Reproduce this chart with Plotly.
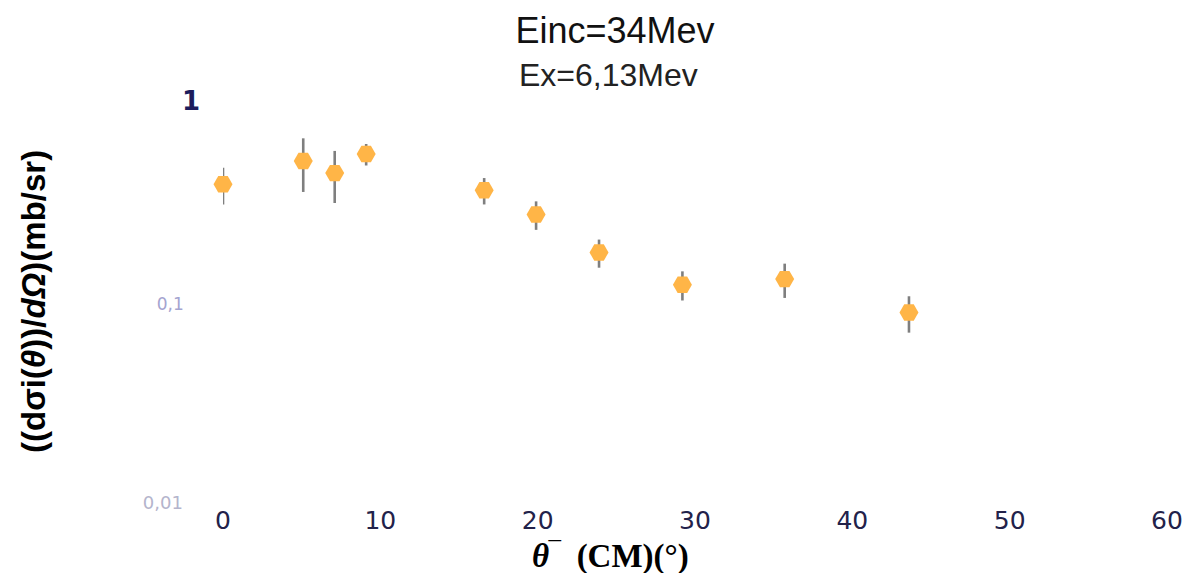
import plotly.graph_objects as go

# Angular distribution, Einc = 34 MeV, Ex = 6.13 MeV
theta_cm = [0, 5.1, 7.1, 9.1, 16.6, 19.9, 23.9, 29.2, 35.7, 43.6]
dsigma = [0.383, 0.50, 0.435, 0.542, 0.357, 0.270, 0.174, 0.120, 0.128, 0.087]
dsigma_err = [0.08, 0.15, 0.127, 0.067, 0.054, 0.044, 0.028, 0.020, 0.025, 0.018]

x_ticks = [0, 10, 20, 30, 40, 50, 60]
y_ticks = [0.01, 0.1, 1]
y_ticktext = [
    "<span style='font-size:18px;color:#b4b4cc'>0,01&nbsp;&nbsp;&nbsp;</span>",
    "<span style='font-size:17px;color:#a4a4d0'>0,1&nbsp;&nbsp;&nbsp;</span>",
    "<b>1</b>",
]

fig = go.Figure()
fig.add_trace(go.Scatter(
    x=theta_cm,
    y=dsigma,
    mode="markers",
    marker=dict(symbol="hexagon2", size=19, color="#FFB547", line=dict(width=0)),
    error_y=dict(type="data", array=dsigma_err, color="#7f7f7f", thickness=2.6, width=0),
    cliponaxis=False,
    showlegend=False,
))

fig.update_layout(
    width=1195,
    height=573,
    margin=dict(l=223, r=23, t=101, b=73),
    paper_bgcolor="white",
    plot_bgcolor="white",
    font=dict(family="DejaVu Sans", color="#22224a"),
    title=dict(
        text="Einc=34Mev",
        font=dict(family="Liberation Sans", size=36, color="#111111"),
        x=615 / 1195, xanchor="center", xref="container",
        y=1 - 30 / 573, yanchor="middle", yref="container",
    ),
    xaxis=dict(
        range=[0, 60],
        tickvals=x_ticks,
        ticktext=[str(v) for v in x_ticks],
        tickfont=dict(family="DejaVu Sans", size=25, color="#22224a"),
        showgrid=False, zeroline=False, showline=False, ticks="",
        ticklabelstandoff=3,
    ),
    yaxis=dict(
        type="log",
        range=[-2, 0],
        tickvals=y_ticks,
        ticktext=y_ticktext,
        tickfont=dict(family="DejaVu Sans", size=26, color="#1c1c5c"),
        showgrid=False, zeroline=False, showline=False, ticks="",
        ticklabelstandoff=22,
    ),
    annotations=[
        dict(
            text="Ex=6,13Mev",
            xref="paper", yref="paper",
            x=(611 - 223) / 949, y=(500 - 75) / 399,
            xanchor="center", yanchor="middle", showarrow=False,
            font=dict(family="Liberation Sans", size=32, color="#222222"),
        ),
        dict(
            text="<b>((dσi(<i>θ</i>))/<i>dΩ</i>)(mb/sr)</b>",
            xref="paper", yref="paper",
            x=(32 - 223) / 949, y=(500 - 302) / 399,
            xanchor="center", yanchor="middle", textangle=-90, showarrow=False,
            font=dict(family="Liberation Sans", size=33, color="#000000"),
        ),
        dict(
            text="<b><i>θ</i>‾&nbsp;&nbsp;(CM)(°)</b>",
            xref="paper", yref="paper",
            x=(613 - 223) / 949, y=(500 - 556) / 399,
            xanchor="center", yanchor="middle", showarrow=False,
            font=dict(family="Liberation Serif", size=33, color="#000000"),
        ),
    ],
)

fig.write_html("out.html")
